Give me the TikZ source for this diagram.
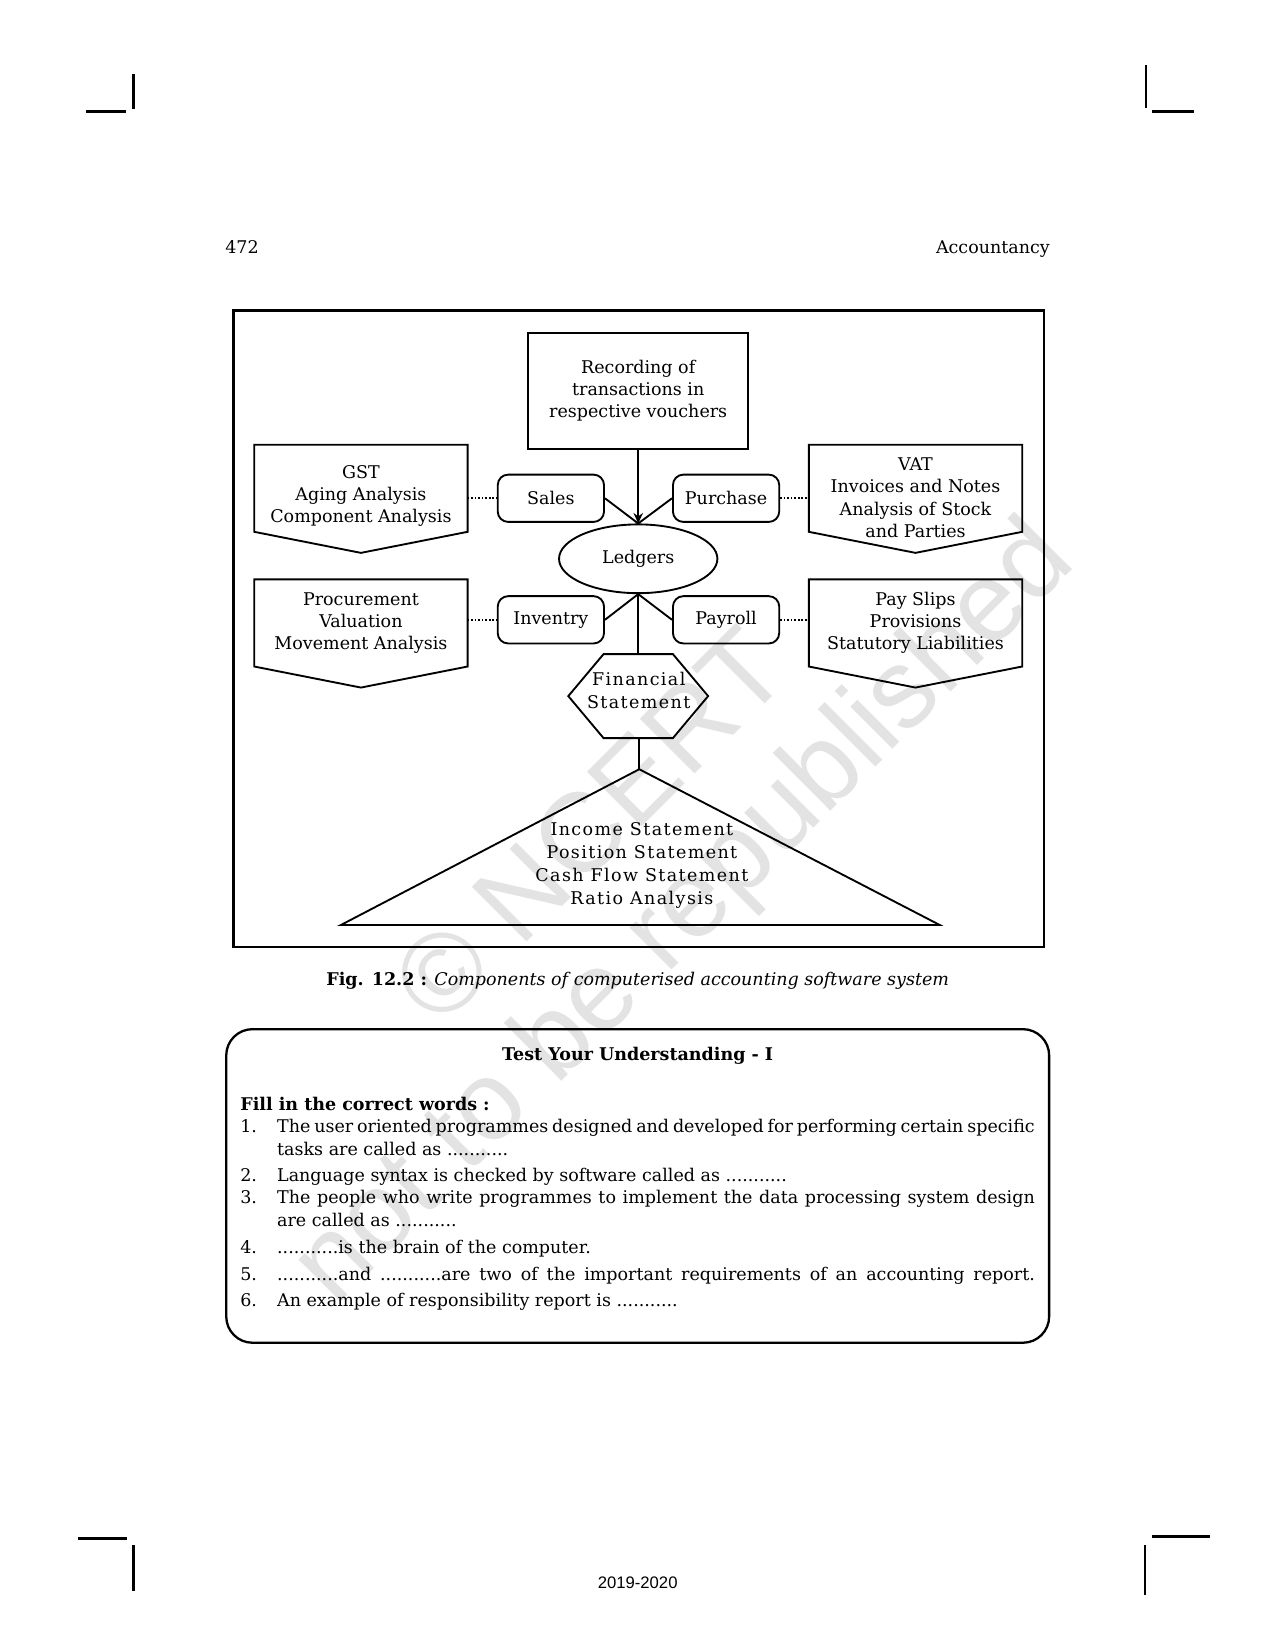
\documentclass[tikz,border=0pt]{standalone}
\usepackage{fontspec}
\setmainfont{DejaVu Serif}
\newfontfamily\sansfam{Liberation Sans}
\usetikzlibrary{arrows.meta,shapes.geometric}

\begin{document}
\begin{tikzpicture}[x=0.505bp,y=-0.505bp,
        every node/.style={inner sep=0pt},
        lbl/.style={font=\fontsize{8.4bp}{10.6bp}\selectfont, align=center},
        spaced/.style={font=\fontsize{8.4bp}{11bp}\selectfont\addfontfeatures{LetterSpace=8}, align=center},
        body/.style={font=\fontsize{8.4bp}{11.1bp}\selectfont, align=left, anchor=base west},
        box/.style={lbl, draw, line width=0.9bp},
        rbox/.style={box, rounded corners=5bp, minimum width=51bp, minimum height=22.7bp},
        pent/.style={minimum width=102bp, minimum height=41.4bp},
        link/.style={line width=0.9bp},
        dots/.style={line width=0.8bp, dash pattern=on 0.8bp off 0.9bp},
        cropln/.style={line width=1.2bp},
        wm/.style={font=\sansfam\fontsize{54bp}{64bp}\selectfont, text=black!11, rotate=45}
    ]
    \useasboundingbox (0,0) rectangle (1212,1568);

    % watermark
    \node[wm] (wm1) at (560,784) {© NCERT};
    \node[wm] (wm2) at (652,870) {not to be republished};

    % crop marks
    \draw[cropln] (82,106) -- (120,106);
    \draw[cropln] (127,70) -- (127,104);
    \draw[cropln] (1089,62) -- (1089,103);
    \draw[cropln] (1095,106) -- (1135,106);
    \draw[cropln] (74,1462) -- (121,1462);
    \draw[cropln] (127,1468) -- (127,1512);
    \draw[cropln] (1095,1460) -- (1150,1460);
    \draw[cropln] (1088,1468) -- (1088,1516);

    % running head
    \node[lbl, anchor=base] (pgno) at (230,241) {472};
    \node[lbl, anchor=base east] (head) at (998,241) {Accountancy};

    % figure
    \draw[line width=1.1bp] (222,295) rectangle (992,900);
    \node[box, minimum width=105.5bp, minimum height=56bp] (rec) at (606.5,371.5)
        {Recording of\\transactions in\\respective vouchers};

    \node[pent] (gst) at (343,464) {};
    \node[pent] (vat) at (870,464) {};
    \node[pent] (proc) at (343,592) {};
    \node[pent] (pays) at (870,592) {};
    \foreach \n in {gst,vat,proc,pays}
        \draw[link] (\n.north west) -- (\n.north east) -- (\n.south east)
            -- ([yshift=-10.1bp]\n.south) -- (\n.south west) -- cycle;
    \node[lbl] (gst-t) at (343,471.5) {GST\\Aging Analysis\\Component Analysis};
    \node[lbl] (vat-t) at (870,473) {VAT\\Invoices and Notes\\Analysis of Stock\\and Parties};
    \node[lbl] (proc-t) at (343,592) {Procurement\\Valuation\\Movement Analysis};
    \node[lbl] (pays-t) at (870,592) {Pay Slips\\Provisions\\Statutory Liabilities};

    \node[rbox] (sales) at (523.5,473.5) {Sales};
    \node[rbox] (pur) at (690,473.5) {Purchase};
    \node[rbox] (inv) at (523.5,589) {Inventry};
    \node[rbox] (pay) at (690,589) {Payroll};
    \node[box, ellipse, minimum width=76bp, minimum height=33bp] (led) at (606.5,531) {Ledgers};

    \draw[link, -{Stealth[length=5bp,width=4.5bp]}] (rec.south) -- (led.north);
    \draw[link] (sales.east) -- (led.north);
    \draw[link] (pur.west) -- (led.north);
    \draw[link] (led.south) -- (inv.east);
    \draw[link] (led.south) -- (pay.west);
    \draw[dots] (gst.east |- sales.west) -- (sales.west);
    \draw[dots] (pur.east) -- (vat.west |- pur.east);
    \draw[dots] (proc.east |- inv.west) -- (inv.west);
    \draw[dots] (pay.east) -- (pays.west |- pay.east);

    \node[minimum width=66.7bp, minimum height=39.9bp] (fin) at (606.5,661.5) {};
    \draw[link] ([xshift=16.9bp]fin.north west) -- ([xshift=-16.9bp]fin.north east) -- (fin.east)
        -- ([xshift=-16.9bp]fin.south east) -- ([xshift=16.9bp]fin.south west) -- (fin.west) -- cycle;
    \node[spaced] (fin-t) at (607,656.5) {Financial\\Statement};
    \draw[link] (led.south) -- (fin.north);

    \coordinate (apex) at (607.5,731);
    \draw[link] (apex) -- (324,879) -- (893,879) -- cycle;
    \draw[link] (fin.south -| apex) -- (apex);
    \node[spaced] (stmts) at (610,822.5)
        {Income Statement\\Position Statement\\Cash Flow Statement\\Ratio Analysis};

    \node[lbl] (cap) at (606,932)
        {\textbf{Fig. 12.2 :} \textit{Components of computerised accounting software system}};

    % test your understanding
    \draw[line width=1.1bp, rounded corners=12.6bp] (215,978) rectangle (997,1276);
    \node[lbl, font=\fontsize{8.4bp}{10.6bp}\selectfont\bfseries] (tyu) at (606,1003) {Test Your Understanding - I};
    \node[body] (fill) at (228,1055) {\textbf{Fill in the correct words :}};
    \foreach \k/\yy/\yt/\t in {
        1/1076/1098/{\makebox[363.6bp][s]{The user oriented programmes designed and developed for performing certain specific}\\tasks are called as ...........},
        2/1123/1123/{Language syntax is checked by software called as ...........},
        3/1144/1166/{\makebox[363.6bp][s]{The people who write programmes to implement the data processing system design}\\are called as ...........},
        4/1191/1191/{...........is the brain of the computer.},
        5/1217/1217/{\makebox[363.6bp][s]{...........and ...........are two of the important requirements of an accounting report.}},
        6/1242/1242/{An example of responsibility report is ...........}} {
        \node[body] (q\k) at (228,\yy) {\k.};
        \node[body] (q\k-t) at (263,\yt) {\t};
    }

    \node[font=\sansfam\fontsize{8bp}{10bp}\selectfont, anchor=base] (year) at (606,1510) {2019-2020};
\end{tikzpicture}
\end{document}
